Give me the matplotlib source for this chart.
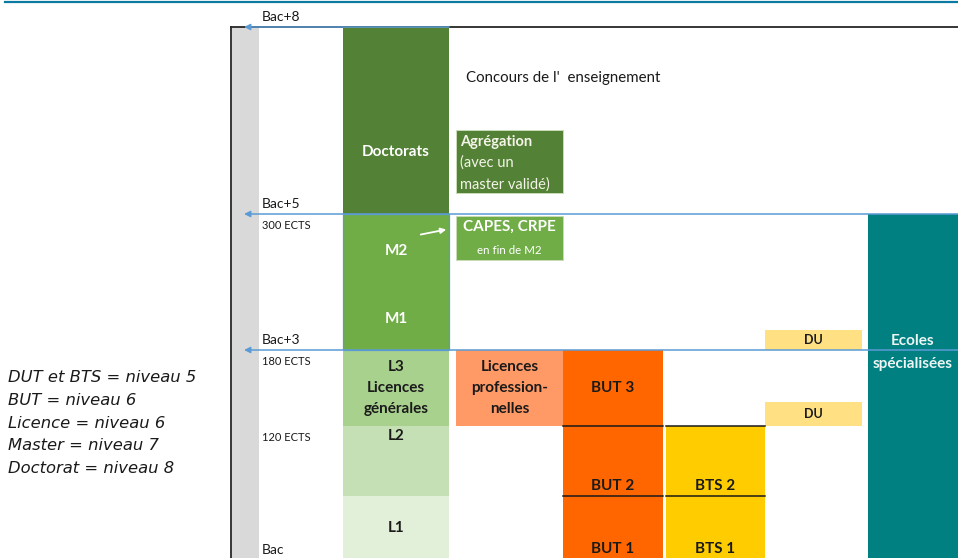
import numpy as np
import matplotlib.pyplot as plt
from matplotlib.patches import Rectangle
from matplotlib.lines import Line2D

plt.rcParams['font.family'] = ['Lato', 'DejaVu Sans']

# years after the bac -> vertical position in the drawing (the source is not to scale)
knot_years = [-1, 0, 1, 2, 3, 5, 8, 9]
knot_px = [622, 560, 496, 426, 350, 214, 27, -35]

# columns of the diagram (left, right)
columns = {
    'band': (232, 259),
    'lic': (343, 449),
    'pro': (456, 563),
    'but': (563, 663),
    'bts': (666, 765),
    'du': (765, 862),
    'ecole': (868, 975),
}

# programmes: label, column, start year, end year
block_labels = ['Doctorats', '', 'L3\nLicences\ngénérales', 'L2', 'L1',
                'Licences\nprofession-\nnelles', 'BUT 3', 'BUT 2', 'BUT 1',
                'BTS 2', 'BTS 1', 'DU', 'DU', 'Ecoles\nspécialisées']
block_cols = ['lic', 'lic', 'lic', 'lic', 'lic', 'pro', 'but', 'but', 'but',
              'bts', 'bts', 'du', 'du', 'ecole']
block_start = [5, 3, 2, 1, 0, 2, 2, 1, 0, 1, 0, 3, 2, 0]
block_end = [8, 5, 3, 2, 1, 3, 3, 2, 1, 2, 1, 3.29, 2.32, 5]
block_colors = ['#538135', '#70ad47', '#a9d18e', '#c5e0b4', '#e2f0d9',
                '#ff9966', '#ff6600', '#ff6600', '#ff6600',
                '#ffcc00', '#ffcc00', '#ffe083', '#ffe083', '#008080']
label_year = [6.0, None, 2.5, 1.85, 0.5, 2.5, 2.5, 1.15, 0.17, 1.15, 0.17,
              3.15, 2.16, 2.97]
label_color = ['white', 'white', '#1a1a1a', '#1a1a1a', '#1a1a1a', '#1a1a1a',
               '#1a1a1a', '#1a1a1a', '#1a1a1a', '#1a1a1a', '#1a1a1a',
               '#1a1a1a', '#1a1a1a', '#eef5f5']

# competitive exams
exam_lines = [['Agrégation', '(avec un', 'master validé)'], ['CAPES, CRPE', 'en fin de M2']]
exam_start = [5.34, 4.32]
exam_end = [6.35, 4.97]
exam_colors = ['#538135', '#70ad47']

# level markers on the left
level_years = [8, 5, 3, 2, 0]
level_names = ['Bac+8', 'Bac+5', 'Bac+3', '', 'Bac']
level_ects = ['', '300 ECTS', '180 ECTS', '120 ECTS', '']

notes = ['DUT et BTS = niveau 5', 'BUT = niveau 6', 'Licence = niveau 6',
         'Master = niveau 7', 'Doctorat = niveau 8']


def fwd(y):
    return -np.interp(y, knot_years, knot_px)


def inv(v):
    return np.interp(-np.asarray(v), knot_px[::-1], knot_years[::-1])


fig = plt.figure(figsize=(9.58, 5.58), dpi=100)
ax = fig.add_axes([0, 0, 1, 1])
ax.set_yscale('function', functions=(fwd, inv))
ax.set_xlim(0, 958)
ax.set_ylim(float(inv(-558)), float(inv(0)))
ax.axis('off')

# top rule of the slide
fig.add_artist(Line2D([0.005, 1], [0.997, 0.997], color='#0b7aa0', lw=1.6))

# frame and grey band
ax.add_patch(Rectangle((columns['band'][0], -1), columns['band'][1] - columns['band'][0], 9,
                       color='#d9d9d9', lw=0, zorder=1))
ax.plot([231, 231], [-1, 8], color='#262626', lw=1.3, zorder=2)
ax.plot([231, 958], [8, 8], color='#262626', lw=1.3, zorder=2)

for i, lab in enumerate(block_labels):
    x0, x1 = columns[block_cols[i]]
    ax.add_patch(Rectangle((x0, block_start[i]), x1 - x0, block_end[i] - block_start[i],
                           facecolor=block_colors[i], lw=0, zorder=2))
    if lab and label_year[i] is not None:
        fs = 9 if lab == 'DU' else 11
        xc = (x0 + x1) / 2
        if block_cols[i] == 'ecole':
            fs, ls, xc = 11, 1.85, 913
        elif '\n' in lab:
            ls = 1.6
        else:
            ls = 1.2
        ax.text(xc, label_year[i], lab,
                ha='center', va='center', fontsize=fs, fontweight='bold',
                color=label_color[i], linespacing=ls, zorder=5)

# master block outline and its labels
x0, x1 = columns['lic']
ax.add_patch(Rectangle((x0, 3), x1 - x0, 2, fill=False, edgecolor='#5b9bd5', lw=0.9, zorder=3))
ax.text((x0 + x1) / 2, 4.45, 'M2', ha='center', va='center', fontsize=11,
        fontweight='bold', color='white', zorder=5)
ax.text((x0 + x1) / 2, 3.45, 'M1', ha='center', va='center', fontsize=11,
        fontweight='bold', color='white', zorder=5)

# separators between years of BUT / BTS
for yr in [2, 1]:
    for c in ['but', 'bts']:
        ax.plot(columns[c], [yr, yr], color='#1a1a1a', lw=1.1, zorder=4)

# exam boxes
x0, x1 = columns['pro']
for i, lines in enumerate(exam_lines):
    ax.add_patch(Rectangle((x0, exam_start[i]), x1 - x0, exam_end[i] - exam_start[i],
                           facecolor=exam_colors[i], edgecolor='#c8dcb8', lw=0.7, zorder=3))
ax.text(x0 + 4, 6.16, exam_lines[0][0], ha='left', va='center', fontsize=10.5,
        fontweight='bold', color='#f4f4e8', zorder=5)
ax.text(x0 + 4, 5.82, exam_lines[0][1], ha='left', va='center', fontsize=10.5,
        color='#f4f4e8', zorder=5)
ax.text(x0 + 4, 5.48, exam_lines[0][2], ha='left', va='center', fontsize=10.5,
        color='#f4f4e8', zorder=5)
ax.text((x0 + x1) / 2, 4.81, exam_lines[1][0], ha='center', va='center', fontsize=11,
        fontweight='bold', color='white', zorder=5)
ax.text((x0 + x1) / 2, 4.46, exam_lines[1][1], ha='center', va='center', fontsize=8.3,
        color='white', zorder=5)
ax.annotate('', xy=(449, 4.78), xytext=(418, 4.69),
            arrowprops=dict(arrowstyle='-|>', color='white', lw=1.3, mutation_scale=8), zorder=6)
ax.text(466, 7.18, "Concours de l'  enseignement", ha='left', va='center',
        fontsize=10.8, color='#1a1a1a')

# level arrows and labels
for i, yr in enumerate(level_years):
    if yr in (8, 5, 3):
        start = 449 if yr == 8 else 958
        ax.annotate('', xy=(244, yr), xytext=(start, yr),
                    arrowprops=dict(arrowstyle='-|>', color='#5b9bd5', lw=1.1,
                                    mutation_scale=9, shrinkA=0, shrinkB=0), zorder=6)
    if level_names[i]:
        ax.annotate(level_names[i], (262, yr), xytext=(0, 3), textcoords='offset points',
                    ha='left', va='bottom', fontsize=10, color='#1a1a1a',
                    annotation_clip=False)
    if level_ects[i]:
        ax.annotate(level_ects[i], (262, yr), xytext=(0, -4), textcoords='offset points',
                    ha='left', va='top', fontsize=8, color='#1a1a1a',
                    annotation_clip=False)

# notes on the left
for i, n in enumerate(notes):
    fig.text(8 / 958, 1 - (378 + 22.6 * i) / 558, n, ha='left', va='center',
             fontsize=11.8, style='italic', color='#1a1a1a', family='DejaVu Sans')

fig.savefig('out.png', dpi=100)
